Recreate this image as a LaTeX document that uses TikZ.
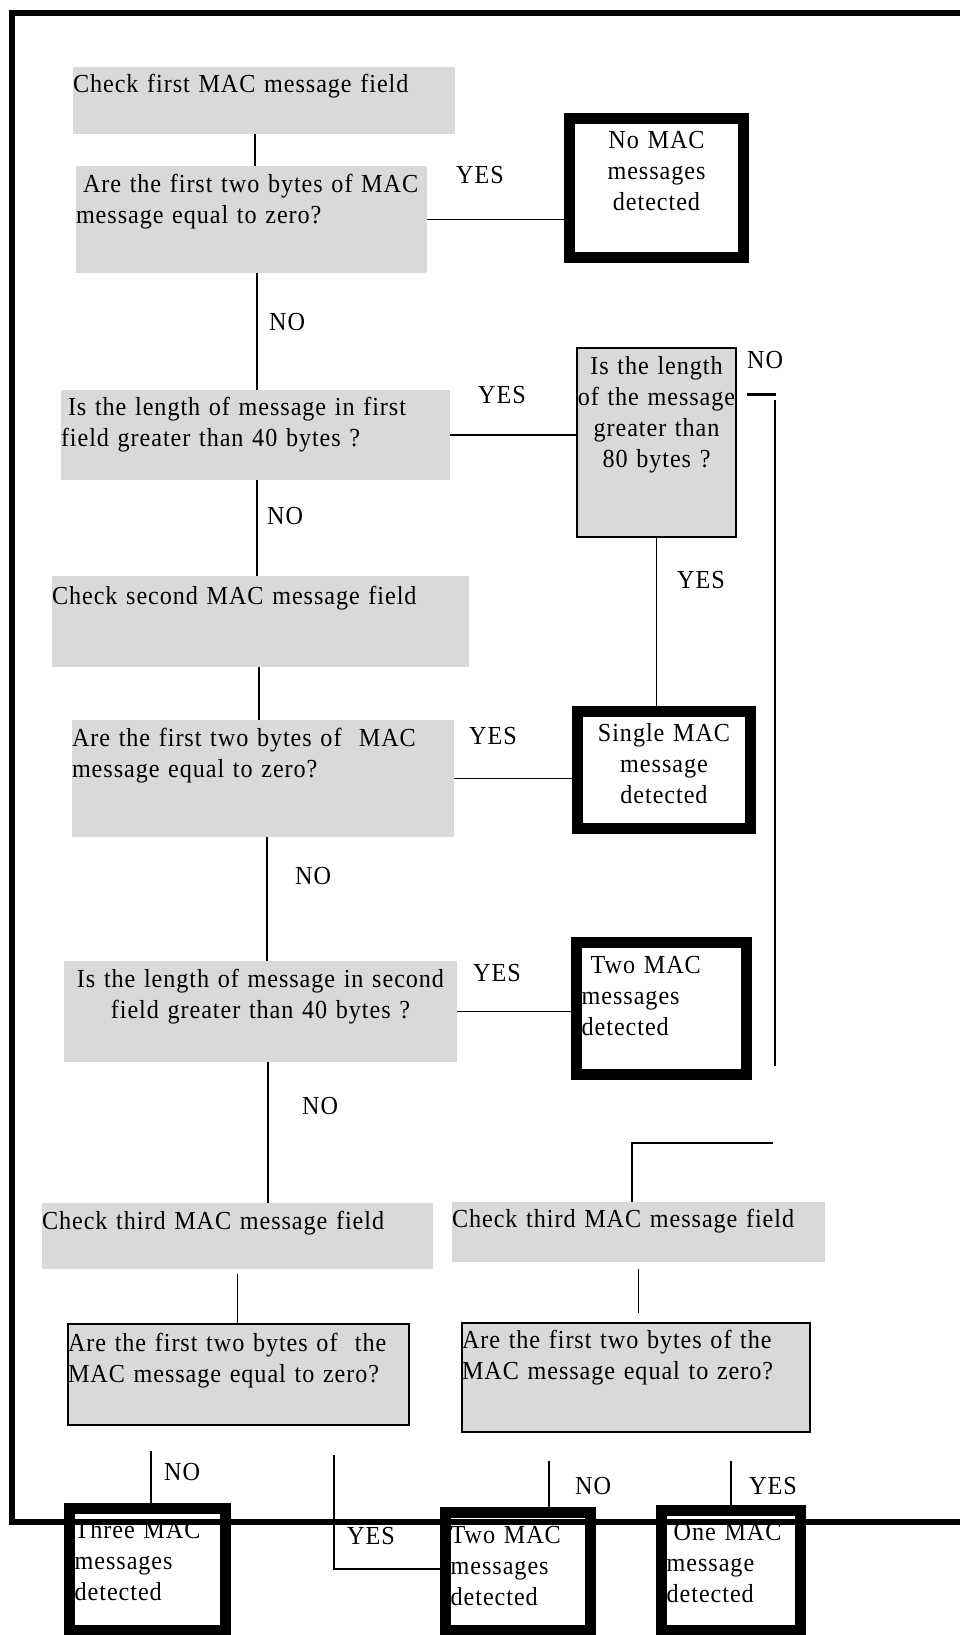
\documentclass[tikz,border=0pt]{standalone}
\usepackage{fontspec}
\setmainfont{Liberation Serif}[FakeStretch=0.93,LetterSpace=3.6]
\usepackage{tikz}
\definecolor{boxgray}{RGB}{217,217,217}
\tikzset{
  gbox/.style={fill=boxgray, anchor=north west, inner sep=0pt, outer sep=0pt, align=left},
  gboxd/.style={gbox, draw, line width=1.8pt},
  endbox/.style={draw, line width=10.7pt, fill=white, anchor=north west, inner xsep=5.35pt, inner ysep=0pt, outer sep=0pt, align=left},
  lbl/.style={anchor=base west, inner sep=0pt},
  conn/.style={line width=1.8pt},
}
\begin{document}
\begin{tikzpicture}[x=1pt, y=-1pt, font=\fontsize{26}{31}\selectfont]
		\useasboundingbox (0,0) rectangle (959,1635);
		% first MAC message field
		\node[gbox, text width=382pt, text height=26pt, text depth=41pt] (C1) at (73,67) {Check first MAC message field};
		\node[gbox, text width=351pt, text height=26pt, text depth=81pt] (Q1) at (76,166) {\hspace*{7pt}Are the first two bytes of MAC\\message equal to zero?};
		\node[endbox, align=center, text width=163.6pt, text height=30.65pt, text depth=108.65pt] (N0) at (569.35,118.35) {No MAC\\messages\\detected};
		\node[gbox, text width=389pt, text height=25pt, text depth=65pt] (Q2) at (61,390) {\hspace*{7pt}Is the length of message in first\\field greater than 40 bytes ?};
		\node[gboxd, align=center, inner xsep=-10pt, text width=179pt, text height=26pt, text depth=163pt] (Q3) at (577,348) {Is the length\\of the message\\greater than\\80 bytes ?};
		\node[endbox, align=center, text width=162.6pt, text height=29.65pt, text depth=87.65pt] (S1) at (577.35,711.35) {Single MAC\\message\\detected};
		% second MAC message field
		\node[gbox, text width=417pt, text height=28pt, text depth=63pt] (C2) at (52,576) {Check second MAC message field};
		\node[gbox, text width=382pt, text height=26pt, text depth=91pt] (Q4) at (72,720) {Are the first two bytes of\ \ MAC\\message equal to zero?};
		\node[gbox, align=center, text width=393pt, text height=26pt, text depth=75pt] (Q5) at (64,961) {Is the length of message in second\\field greater than 40 bytes ?};
		\node[endbox, text width=159.6pt, text height=30.65pt, text depth=101.65pt] (T1) at (576.35,942.35) {\hspace*{9pt}Two MAC\\messages\\detected};
		% third MAC message field
		\node[gbox, text width=391pt, text height=26pt, text depth=40pt] (C3) at (42,1203) {Check third MAC message field};
		\node[gboxd, text width=341pt, text height=27pt, text depth=74pt] (Q6) at (68,1324) {Are the first two bytes of\ \ the\\MAC message equal to zero?};
		\node[gbox, text width=373pt, text height=25pt, text depth=35pt] (C4) at (452,1202) {Check third MAC message field};
		\node[gboxd, text width=348pt, text height=25pt, text depth=84pt] (Q7) at (462,1323) {Are the first two bytes of the\\MAC message equal to zero?};
		\node[endbox, text width=145.6pt, text height=29.65pt, text depth=92.65pt] (E3) at (69.35,1508.35) {Three MAC\\messages\\detected};
		\node[endbox, text width=134.6pt, text height=30.65pt, text depth=87.65pt] (E2) at (445.35,1512.35) {Two MAC\\messages\\detected};
		\node[endbox, text width=128.6pt, text height=29.65pt, text depth=90.65pt] (E1) at (661.35,1510.35) {\hspace*{7pt}One MAC\\message\\detected};
		
		% YES / NO labels
		\node[lbl] (yes1) at (456,183) {YES};
		\node[lbl] (no1) at (269,330) {NO};
		\node[lbl] (yes2) at (478,403) {YES};
		\node[lbl] (no2) at (747,368) {NO};
		\node[lbl] (no3) at (267,524) {NO};
		\node[lbl] (yes3) at (677,588) {YES};
		\node[lbl] (yes4) at (469,744) {YES};
		\node[lbl] (no4) at (295,884) {NO};
		\node[lbl] (yes5) at (473,981) {YES};
		\node[lbl] (no5) at (302,1114) {NO};
		\node[lbl] (no6) at (164,1480) {NO};
		\node[lbl] (yes6) at (347,1544) {YES};
		\node[lbl] (no7) at (575,1494) {NO};
		\node[lbl] (yes7) at (749,1494) {YES};
		
		\draw[conn] (C1.south -| 255,0) -- (Q1.north -| 255,0);
		\draw[conn] (Q1.east) -- (Q1.east -| N0.west);
		\draw[conn] (Q1.south -| 257,0) -- (Q2.north -| 257,0);
		\draw[conn] (Q2.east) -- (Q2.east -| Q3.west);
		\draw[conn] (Q2.south -| 257,0) -- (C2.north -| 257,0);
		\draw[conn] (Q3.south) -- (Q3.south |- S1.north);
		\draw[conn] (C2.south -| 259,0) -- (Q4.north -| 259,0);
		\draw[conn] (Q4.east) -- (Q4.east -| S1.west);
		\draw[conn] (Q4.south -| 267,0) -- (Q5.north -| 267,0);
		\draw[conn] (Q5.east) -- (Q5.east -| T1.west);
		\draw[conn] (Q5.south -| 268,0) -- (C3.north -| 268,0);
		\draw[conn] ([yshift=-5pt]C3.south) -- (C3.south |- Q6.north);
		\draw[conn] ([yshift=-7pt]C4.south) -- ([yshift=10pt]C4.south |- Q7.north);
		% NO branch of the 80 bytes test
		\coordinate (n2a) at (747,394);
		\coordinate (n2b) at (775,400);
		\coordinate (n2c) at (773,1143);
		\draw[line width=3pt] (n2a) -- ++(29,0);
		\draw[line width=2pt] (n2b) -- (n2b |- 0,1066);
		\draw[conn] (n2c) -- (n2c -| 632,0) -- (C4.north -| 632,0);
		% last branches
		\coordinate (n6) at (151,1451);
		\coordinate (y6) at (334,1455);
		\coordinate (n7) at (549,1461);
		\coordinate (y7) at (731,1461);
		\draw[conn] (n6) -- (n6 |- E3.north);
		\draw[conn] (y6) -- (y6 |- 0,1569) -- (E2.west |- 0,1569);
		\draw[conn] (n7) -- (n7 |- E2.north);
		\draw[conn] (y7) -- (y7 |- E1.north);
		
		% outer frame
		\draw[line width=6.5pt] (965,13) -- (12,13) -- (12,1522) -- (965,1522);
	\end{tikzpicture}
\end{document}
